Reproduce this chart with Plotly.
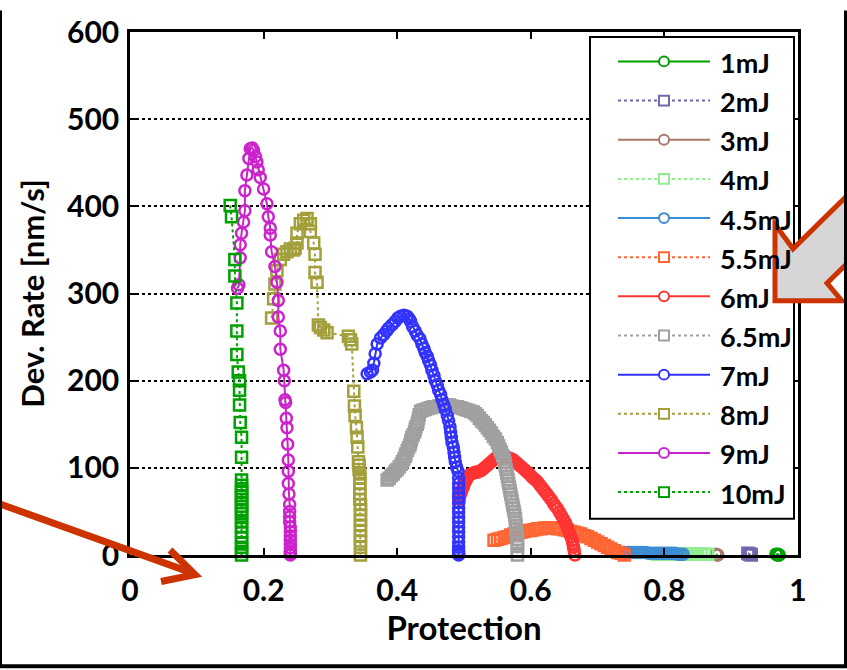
import plotly.graph_objects as go

# ---------------- data ----------------
names = ["1mJ", "2mJ", "3mJ", "4mJ", "4.5mJ", "5.5mJ", "6mJ", "6.5mJ", "7mJ", "8mJ", "9mJ", "10mJ"]
colors = ["#00a000", "#7466ac", "#a8786a", "#90ee90", "#3d8cd4", "#ff6633",
          "#ff3333", "#a0a0a0", "#3333ff", "#a3a03c", "#cc22cc", "#00a000"]
symbols = ["circle-open", "square-open", "circle-open", "square-open", "circle-open", "square-open",
           "circle-open", "square-open", "circle-open", "square-open", "circle-open", "square-open"]
dashes = ["solid", "dot", "solid", "dot", "solid", "dot", "solid", "dot", "solid", "dot", "solid", "dot"]

x_1mJ = [0.967, 0.969, 0.970, 0.971, 0.972]
y_1mJ = [1, 0, 1, 0, 0]

x_2mJ = [0.925, 0.927, 0.929, 0.930]
y_2mJ = [2, 1, 1, 0]

x_3mJ = [0.877, 0.879, 0.880]
y_3mJ = [1, 0, 0]

x_4mJ = [0.790, 0.794, 0.798, 0.802, 0.806, 0.810, 0.814, 0.818, 0.822, 0.826,
         0.830, 0.834, 0.838, 0.842, 0.846, 0.850, 0.855, 0.860, 0.865]
y_4mJ = [1, 1, 1, 1, 1, 1, 1, 1, 1, 1,
         1, 1, 1, 1, 1, 1, 1, 1, 1]

x_45mJ = [0.740, 0.744, 0.748, 0.752, 0.756, 0.760, 0.764, 0.768, 0.772, 0.776,
          0.780, 0.784, 0.788, 0.792, 0.796, 0.800, 0.804, 0.808, 0.812, 0.816,
          0.820, 0.824, 0.828]
y_45mJ = [3, 3, 3, 3, 3, 3, 3, 3, 3, 2,
          2, 2, 2, 2, 2, 2, 2, 2, 2, 2,
          1, 1, 1]

x_55mJ = [0.545, 0.550, 0.555, 0.560, 0.565, 0.570, 0.575, 0.580, 0.585, 0.590,
          0.595, 0.600, 0.605, 0.610, 0.615, 0.620, 0.625, 0.630, 0.635, 0.640,
          0.645, 0.650, 0.655, 0.660, 0.665, 0.670, 0.675, 0.680, 0.685, 0.690,
          0.695, 0.700, 0.705, 0.710, 0.715, 0.720, 0.725, 0.730, 0.735, 0.740]
y_55mJ = [17, 18, 19, 20, 21, 23, 24, 25, 26, 27,
          28, 28, 29, 30, 30, 31, 31, 31, 31, 30,
          30, 29, 28, 27, 26, 25, 24, 22, 21, 19,
          17, 15, 13, 11, 9, 7, 5, 3, 2, 0]

x_6mJ = [0.492, 0.493, 0.494, 0.496, 0.497, 0.499, 0.500, 0.502, 0.504, 0.506,
         0.508, 0.511, 0.514, 0.517, 0.520, 0.523, 0.526, 0.529, 0.532, 0.535,
         0.538, 0.541, 0.544, 0.547, 0.550, 0.553, 0.556, 0.559, 0.562, 0.565,
         0.568, 0.571, 0.574, 0.577, 0.580, 0.583, 0.586, 0.589, 0.592, 0.595,
         0.598, 0.601, 0.604, 0.607, 0.610, 0.613, 0.616, 0.619, 0.622, 0.625,
         0.628, 0.631, 0.634, 0.637, 0.640, 0.643, 0.646, 0.649, 0.652, 0.654,
         0.656, 0.658, 0.660, 0.662, 0.663, 0.664, 0.665, 0.666]
y_6mJ = [60, 64, 68, 72, 75, 78, 81, 84, 87, 90,
         92, 93, 94, 95, 95, 96, 97, 99, 101, 103,
         105, 107, 109, 111, 112, 113, 114, 114, 113, 112,
         111, 110, 109, 107, 105, 103, 101, 99, 97, 95,
         93, 90, 88, 86, 84, 81, 78, 75, 72, 69,
         66, 63, 59, 56, 53, 49, 45, 41, 37, 33,
         29, 25, 21, 17, 13, 9, 5, 0]

x_65mJ = [0.385, 0.388, 0.391, 0.394, 0.397, 0.400, 0.403, 0.406, 0.408, 0.410,
          0.412, 0.413, 0.415, 0.417, 0.419, 0.420, 0.421, 0.422, 0.424, 0.426,
          0.427, 0.428, 0.430, 0.431, 0.432, 0.433, 0.435, 0.438, 0.442, 0.446,
          0.450, 0.454, 0.458, 0.462, 0.466, 0.470, 0.474, 0.478, 0.482, 0.486,
          0.490, 0.494, 0.498, 0.502, 0.506, 0.510, 0.514, 0.517, 0.520, 0.523,
          0.526, 0.529, 0.532, 0.535, 0.538, 0.541, 0.544, 0.547, 0.550, 0.552,
          0.554, 0.556, 0.558, 0.560, 0.561, 0.562, 0.563, 0.564, 0.565, 0.566,
          0.567, 0.568, 0.569, 0.570, 0.571, 0.572, 0.573, 0.574, 0.575, 0.576,
          0.577, 0.577, 0.578, 0.578, 0.579, 0.579, 0.580, 0.580, 0.580, 0.580, 0.580]
y_65mJ = [86, 88, 91, 93, 96, 98, 101, 104, 107, 110,
          113, 116, 120, 123, 126, 129, 132, 135, 138, 141,
          144, 147, 150, 153, 157, 161, 165, 166, 167, 168,
          169, 170, 170, 171, 171, 172, 172, 172, 171, 170,
          170, 169, 168, 167, 166, 165, 164, 162, 160, 157,
          154, 152, 149, 146, 143, 140, 136, 133, 129, 125,
          121, 118, 114, 110, 106, 102, 98, 94, 90, 86,
          82, 78, 74, 70, 66, 62, 58, 54, 50, 46,
          42, 38, 34, 30, 26, 22, 18, 14, 10, 5, 0]

x_7mJ = [0.355, 0.360, 0.363, 0.365, 0.367, 0.370, 0.375, 0.380, 0.384, 0.387, 0.392, 0.397,
         0.401, 0.405, 0.410, 0.415, 0.418, 0.420, 0.423, 0.427, 0.430, 0.434, 0.437, 0.440,
         0.442, 0.445, 0.447, 0.450, 0.452, 0.455, 0.457, 0.460, 0.462, 0.465, 0.467, 0.470,
         0.472, 0.475, 0.477, 0.479, 0.480, 0.481, 0.482, 0.484, 0.485, 0.486, 0.487, 0.489,
         0.491, 0.492, 0.492, 0.492, 0.492, 0.492, 0.492, 0.492, 0.492, 0.492, 0.492, 0.492,
         0.492, 0.492, 0.492, 0.492, 0.492, 0.492, 0.492, 0.492]
y_7mJ = [208, 210, 212, 220, 231, 242, 249, 253, 257, 260, 264, 268, 272, 274, 275, 274, 271,
         268, 262, 257, 252, 248, 242, 237, 232, 228, 223, 218, 212, 206, 200, 195, 189, 184,
         178, 172, 167, 160, 154, 147, 141, 135, 129, 124, 118, 112, 107, 101, 96, 88, 82, 77,
         71, 66, 60, 54, 49, 43, 38, 32, 27, 21, 15, 9, 5, 2, 1, 0]

x_8mJ = [0.212, 0.215, 0.217, 0.220, 0.225, 0.230, 0.235, 0.240, 0.245, 0.247, 0.250, 0.250,
         0.255, 0.260, 0.265, 0.270, 0.270, 0.275, 0.277, 0.277, 0.280, 0.282, 0.285, 0.290,
         0.295, 0.327, 0.330, 0.332, 0.335, 0.336, 0.337, 0.339, 0.340, 0.341, 0.342, 0.343,
         0.343, 0.344, 0.344, 0.344, 0.344, 0.344, 0.344, 0.345, 0.345, 0.345, 0.345, 0.345,
         0.345, 0.345, 0.345, 0.345, 0.345]
y_8mJ = [272, 294, 311, 326, 339, 345, 348, 351, 350, 352, 358, 369, 380, 384, 386, 380, 371,
         358, 345, 324, 313, 264, 261, 258, 255, 251, 247, 242, 188, 171, 160, 146, 135, 124,
         107, 103, 98, 93, 88, 82, 76, 70, 64, 58, 52, 46, 40, 34, 28, 22, 16, 9, 0]

x_9mJ = [0.161, 0.163, 0.165, 0.165, 0.167, 0.170, 0.172, 0.172, 0.175, 0.178, 0.180, 0.183,
         0.185, 0.188, 0.190, 0.192, 0.195, 0.200, 0.205, 0.207, 0.210, 0.210, 0.212, 0.217,
         0.220, 0.222, 0.222, 0.225, 0.225, 0.230, 0.231, 0.232, 0.233, 0.234, 0.235, 0.236,
         0.237, 0.237, 0.237, 0.238, 0.239, 0.239, 0.239, 0.239, 0.240, 0.240, 0.240, 0.240,
         0.240, 0.240, 0.240, 0.240, 0.240]
y_9mJ = [306, 310, 341, 356, 369, 382, 395, 418, 436, 455, 466, 467, 464, 457, 451, 442, 433,
         420, 403, 388, 375, 367, 348, 331, 313, 292, 273, 257, 236, 212, 200, 178, 175, 157,
         146, 127, 109, 96, 82, 70, 58, 50, 44, 38, 32, 27, 22, 17, 12, 8, 4, 2, 0]

x_10mJ = [0.150, 0.152, 0.157, 0.157, 0.160, 0.160, 0.160, 0.162, 0.164, 0.164, 0.164, 0.165,
          0.167, 0.167, 0.167, 0.167, 0.167, 0.167, 0.167, 0.167, 0.167, 0.167, 0.167, 0.167,
          0.167, 0.167, 0.167, 0.167, 0.167, 0.167, 0.167, 0.167, 0.167]
y_10mJ = [401, 388, 339, 320, 289, 257, 230, 210, 200, 189, 172, 152, 135, 112, 86, 80, 76,
          72, 68, 64, 60, 56, 52, 48, 43, 38, 32, 26, 20, 14, 9, 4, 0]

xs = [x_1mJ, x_2mJ, x_3mJ, x_4mJ, x_45mJ, x_55mJ, x_6mJ, x_65mJ, x_7mJ, x_8mJ, x_9mJ, x_10mJ]
ys = [y_1mJ, y_2mJ, y_3mJ, y_4mJ, y_45mJ, y_55mJ, y_6mJ, y_65mJ, y_7mJ, y_8mJ, y_9mJ, y_10mJ]

x_ticks = [0, 0.2, 0.4, 0.6, 0.8, 1]
x_ticklabels = ["0", "0.2", "0.4", "0.6", "0.8", "1"]
y_ticks = [0, 100, 200, 300, 400, 500, 600]

# ---------------- figure ----------------
W, H = 847, 670
L, R, T, B = 130, 49, 22, 115
FONT = "Lato"

fig = go.Figure()
for n, c, s, d, xv, yv in zip(names, colors, symbols, dashes, xs, ys):
    fig.add_trace(go.Scatter(
        x=xv, y=yv, name=n, mode="lines+markers", showlegend=False,
        line=dict(color=c, width=2, dash=d),
        marker=dict(symbol=s, size=11, color=c, line=dict(width=2.5, color=c)),
        cliponaxis=False,
    ))

fig.update_layout(
    width=W, height=H,
    margin=dict(l=L, r=R, t=T, b=B, pad=0),
    paper_bgcolor="white", plot_bgcolor="white",
    font=dict(family=FONT, color="black"),
    showlegend=False,
    xaxis=dict(
        range=[0, 1], tickvals=x_ticks, ticktext=x_ticklabels,
        showgrid=False, zeroline=False,
        showline=True, linecolor="black", linewidth=2.5, mirror="ticks",
        ticks="inside", ticklen=7, tickwidth=2, tickcolor="black",
        tickfont=dict(family=FONT, size=30, weight="bold"),
        ticklabelstandoff=7,
        title=dict(text="Protection", font=dict(family=FONT, size=33, weight="bold"), standoff=8),
    ),
    yaxis=dict(
        range=[0, 600], tickvals=y_ticks,
        showgrid=True, gridcolor="black", gridwidth=2, griddash="dot",
        zeroline=False,
        showline=True, linecolor="black", linewidth=2.5, mirror="ticks",
        ticks="inside", ticklen=7, tickwidth=2, tickcolor="black",
        tickfont=dict(family=FONT, size=30, weight="bold"),
        ticklabelstandoff=2,
        title=dict(text="Dev. Rate [nm/s]", font=dict(family=FONT, size=31, weight="bold"), standoff=14),
    ),
)

# ---------------- helpers: pixel -> paper ----------------
def px(x):
    return (x - L) / (W - L - R)

def py(y):
    return (H - B - y) / (H - T - B)

def path(pts, close=False):
    s = "M " + " L ".join(f"{px(a):.5f},{py(b):.5f}" for a, b in pts)
    return s + (" Z" if close else "")

shapes = []
annotations = []

# ---------------- legend box (drawn by hand to match the long sample lines) ----------------
shapes.append(dict(type="rect", xref="paper", yref="paper",
                   x0=px(590), x1=px(794), y0=py(27), y1=py(518),
                   fillcolor="white", line=dict(color="black", width=2)))
for i, (n, c, s, d) in enumerate(zip(names, colors, symbols, dashes)):
    ry = 52 + 39.9 * i
    shapes.append(dict(type="line", xref="paper", yref="paper",
                       x0=px(618), x1=px(710), y0=py(ry), y1=py(ry),
                       line=dict(color=c, width=2, dash=d)))
    shapes.append(dict(type="circle" if s.startswith("circle") else "rect",
                       xref="paper", yref="paper",
                       x0=px(659), x1=px(669), y0=py(ry - 5), y1=py(ry + 5),
                       fillcolor="white", line=dict(color=c, width=2)))
    annotations.append(dict(xref="paper", yref="paper", x=px(718), y=py(ry + 1),
                            xanchor="left", yanchor="middle", showarrow=False, text=n,
                            font=dict(family=FONT, size=27, weight="bold", color="black")))

# ---------------- slide decorations ----------------
ARROW = "#cc3300"
shapes.append(dict(type="path", xref="paper", yref="paper",
                   path=path([(0, 503), (194, 574)]),
                   line=dict(color=ARROW, width=7)))
shapes.append(dict(type="path", xref="paper", yref="paper",
                   path=path([(170, 550), (195, 575), (161, 582)]),
                   line=dict(color=ARROW, width=7)))
shapes.append(dict(type="path", xref="paper", yref="paper",
                   path=path([(775, 218), (775, 296), (842, 296), (827, 278), (852, 253),
                              (852, 184), (793, 243)], close=True),
                   fillcolor="#d6d6d6", line=dict(color=ARROW, width=5)))
shapes.append(dict(type="line", xref="paper", yref="paper",
                   x0=px(1), x1=px(1), y0=py(0), y1=py(670), line=dict(color="black", width=2)))
shapes.append(dict(type="line", xref="paper", yref="paper",
                   x0=px(0), x1=px(847), y0=py(668.5), y1=py(668.5), line=dict(color="black", width=4)))
shapes.append(dict(type="line", xref="paper", yref="paper",
                   x0=px(845.5), x1=px(845.5), y0=py(0), y1=py(670), line=dict(color="black", width=3)))

fig.update_layout(shapes=shapes, annotations=annotations)

fig.write_html("out.html")
